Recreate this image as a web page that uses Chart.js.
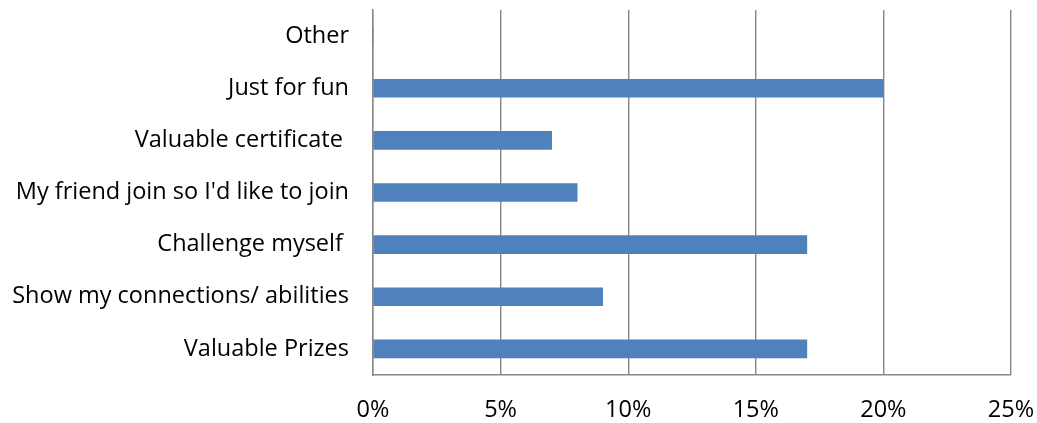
<!DOCTYPE html>
<html>
<head>
<meta charset="utf-8">
<script src="https://cdn.jsdelivr.net/npm/chart.js@4/dist/chart.umd.min.js"></script>
<style>
  html, body { margin: 0; padding: 0; background: #fff; }
  #wrap { width: 1037px; height: 423px; }
</style>
</head>
<body>
<div id="wrap"><canvas id="chart" width="1037" height="423"></canvas></div>
<script>
// reasons people joined (survey answers), top to bottom
const categories = [
    'Other',
    'Just for fun',
    'Valuable certificate ',
    "My friend join so I'd like to join",
    'Challenge myself ',
    'Show my connections/ abilities',
    'Valuable Prizes'
];
const shares = [0, 0.20, 0.07, 0.08, 0.17, 0.09, 0.17];
const xTicks = [0, 0.05, 0.10, 0.15, 0.20, 0.25];

const gridGray = '#868686';
const labelFont = { family: 'Open Sans', size: 23.5 };

// keep the plot box where the reference has it
function noPad(axis) {
    axis.paddingLeft = 0;
    axis.paddingRight = 0;
    axis.paddingTop = 0;
    axis.paddingBottom = 0;
}

new Chart(document.getElementById('chart'), {
    type: 'bar',
    data: {
        labels: categories,
        datasets: [{
            data: shares,
            backgroundColor: '#4f81bd',
            borderWidth: 0,
            barThickness: 18
        }]
    },
    options: {
        indexAxis: 'y',
        responsive: false,
        animation: false,
        layout: { padding: { top: 10, right: 26, left: 0, bottom: 0 } },
        plugins: {
            legend: { display: false },
            tooltip: { enabled: false }
        },
        scales: {
            x: {
                min: 0,
                max: 0.25,
                afterBuildTicks: function(axis) {
                    axis.ticks = xTicks.map(v => ({ value: v }));
                },
                afterFit: function(axis) { axis.height = 48; noPad(axis); },
                grid: { color: gridGray, lineWidth: 1.4, drawTicks: false },
                border: { color: gridGray, width: 1.4 },
                ticks: {
                    padding: 21,
                    color: '#000',
                    font: labelFont,
                    callback: v => Math.round(v * 100) + '%'
                }
            },
            y: {
                afterFit: function(axis) { axis.width = 373; noPad(axis); },
                grid: { display: false, drawTicks: false },
                border: { color: gridGray, width: 1.4 },
                ticks: {
                    padding: 24,
                    color: '#000',
                    font: labelFont
                }
            }
        }
    }
});
</script>
</body>
</html>
